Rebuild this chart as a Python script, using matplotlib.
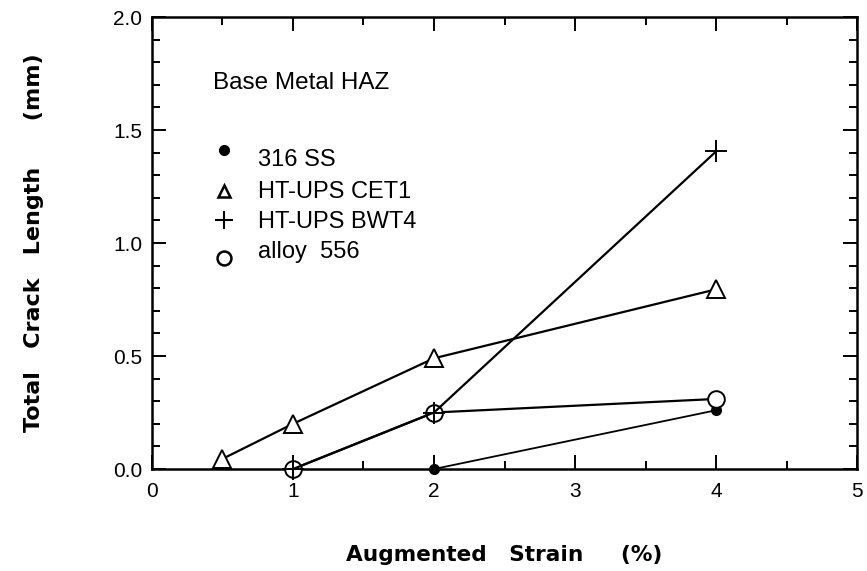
import matplotlib
matplotlib.use("Agg")
import matplotlib.pyplot as plt
from matplotlib.ticker import MultipleLocator, FormatStrFormatter

plt.rcParams['font.family'] = ['Liberation Sans', 'DejaVu Sans']

# data
ss316_x = [2, 4]
ss316_y = [0.0, 0.26]
cet1_x = [0.5, 1, 2, 4]
cet1_y = [0.045, 0.20, 0.49, 0.795]
bwt4_x = [1, 2, 4]
bwt4_y = [0.0, 0.25, 1.405]
alloy556_x = [1, 2, 4]
alloy556_y = [0.0, 0.25, 0.31]

labels = ['316 SS', 'HT-UPS CET1', 'HT-UPS BWT4', 'alloy  556']

fig = plt.figure(figsize=(8.67, 5.71), dpi=100)
ax = fig.add_axes([0.1753, 0.1786, 0.8132, 0.7916])

lw = 1.6
ax.plot(ss316_x, ss316_y, color='black', lw=1.3, marker='o', ms=7,
        mfc='black', mec='black', clip_on=False, zorder=3)
ax.plot(cet1_x, cet1_y, color='black', lw=lw, marker='^', ms=13,
        mfc='white', mec='black', mew=1.4, clip_on=False, zorder=3)
ax.plot(alloy556_x, alloy556_y, color='black', lw=lw, marker='o', ms=12,
        mfc='white', mec='black', mew=1.4, clip_on=False, zorder=3)
ax.plot(bwt4_x, bwt4_y, color='black', lw=lw, marker='+', ms=16,
        mew=1.4, clip_on=False, zorder=4)

ax.set_xlim(0, 5)
ax.set_ylim(0, 2.0)
ax.xaxis.set_major_locator(MultipleLocator(1))
ax.xaxis.set_minor_locator(MultipleLocator(0.5))
ax.yaxis.set_major_locator(MultipleLocator(0.5))
ax.yaxis.set_minor_locator(MultipleLocator(0.1))
ax.yaxis.set_major_formatter(FormatStrFormatter('%.1f'))

ax.tick_params(which='both', direction='in', top=True, right=True,
               width=1.4, labelsize=15, colors='black')
ax.tick_params(which='major', length=10)
ax.tick_params(which='minor', length=6)
ax.tick_params(axis='x', which='major', pad=9)
ax.tick_params(axis='y', which='major', pad=7)
for s in ax.spines.values():
    s.set_linewidth(1.8)

ax.set_xlabel('Augmented   Strain     (%)', fontsize=15.6, fontweight='bold',
              family='DejaVu Sans', labelpad=32)
ax.set_ylabel('Total   Crack   Length      (mm)', fontsize=16,
              fontweight='bold', family='DejaVu Sans', labelpad=50)

ax.text(0.0865, 0.854, 'Base Metal HAZ', transform=ax.transAxes,
        fontsize=17.5, va='center', ha='left')

# legend keys
key_style = [
    dict(marker='o', ms=7, mfc='black', mec='black'),
    dict(marker='^', ms=9, mfc='white', mec='black', mew=1.8),
    dict(marker='+', ms=13, mec='black', mew=1.5),
    dict(marker='o', ms=10, mfc='white', mec='black', mew=1.8),
]
key_y = [0.706, 0.615, 0.551, 0.467]
text_y = [0.684, 0.613, 0.546, 0.480]
for st, ky, ty, lab in zip(key_style, key_y, text_y, labels):
    ax.plot([0.102], [ky], ls='none', transform=ax.transAxes, **st)
    ax.text(0.150, ty, lab, transform=ax.transAxes, fontsize=17,
            va='center', ha='left')

fig.savefig('out.png', dpi=100)
